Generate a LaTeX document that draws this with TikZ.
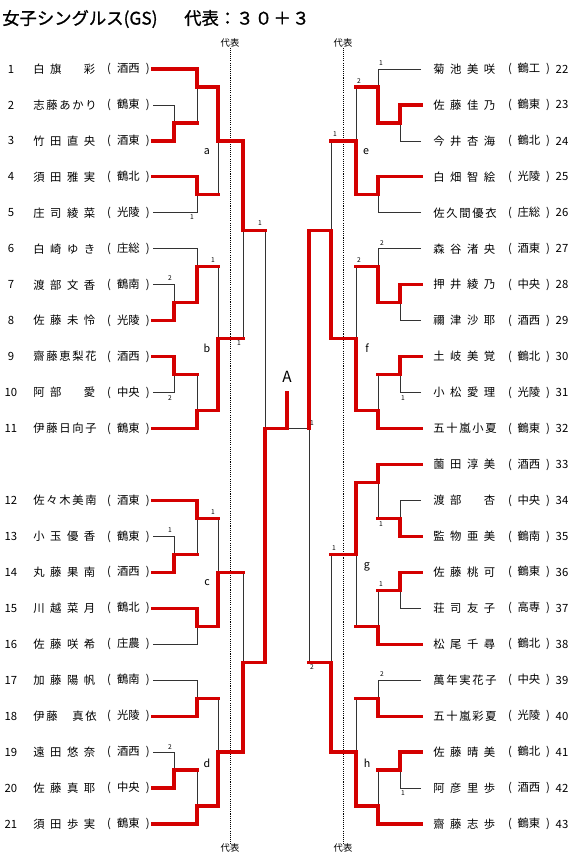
\documentclass[tikz,border=0pt]{standalone}
\usepackage{fontspec}
\setmainfont{Noto Sans CJK JP}
\newfontfamily\ttlfont[AutoFakeBold=1]{Noto Sans CJK JP}
\usetikzlibrary{positioning,calc}
\definecolor{winred}{RGB}{212,0,0}
\newcommand\kk{\phantom{口}}
\newcommand\lostto[2]{\draw[lose] (#1 -| #2) -- (#2); \draw[win] (#1) -- (#1 -| #2);}

\begin{document}
\begin{tikzpicture}[x=0.75pt,y=-0.75pt,
    declare function={ry(\t)=69+35.95*\t;},
    win/.style={draw=winred, line width=2.4pt, line cap=rect},
    lose/.style={draw=black!80, line width=0.6pt},
    repline/.style={line width=0.6pt, dash pattern=on 0.8pt off 0.8pt},
    pltext/.style={inner sep=0pt, font=\fontsize{8.5}{10}\selectfont},
    blk/.style={inner sep=0pt, font=\fontsize{8}{9}\selectfont},
    pts/.style={inner sep=0pt, font=\fontsize{5}{6}\selectfont},
    reptext/.style={inner sep=0pt, font=\fontsize{7}{8}\selectfont}]
\useasboundingbox (0,0) rectangle (576,861);

\node[inner sep=0pt, anchor=west, font=\ttlfont\bfseries\fontsize{13}{15}\selectfont] (title) at (2,19)
    {女子シングルス(GS)\hspace{20pt}代表：３\hspace{1pt}０\hspace{1pt}＋\hspace{1pt}３};

% players, left
\foreach \n/\nm/\sch in {1/{白 旗 \kk{} 彩}/酒西, 2/{志 藤 あ か り}/鶴東, 3/{竹 田 直 央}/酒東,
    4/{須 田 雅 実}/鶴北, 5/{庄 司 綾 菜}/光陵, 6/{白 崎 ゆ き}/庄総, 7/{渡 部 文 香}/鶴南,
    8/{佐 藤 未 怜}/光陵, 9/{齋 藤 恵 梨 花}/酒西, 10/{阿 部 \kk{} 愛}/中央, 11/{伊 藤 日 向 子}/鶴東,
    12/{佐 々 木 美 南}/酒東, 13/{小 玉 優 香}/鶴東, 14/{丸 藤 果 南}/酒西, 15/{川 越 菜 月}/鶴北,
    16/{佐 藤 咲 希}/庄農, 17/{加 藤 陽 帆}/鶴南, 18/{伊 藤 \kk{} 真 依}/光陵, 19/{遠 田 悠 奈}/酒西,
    20/{佐 藤 真 耶}/中央, 21/{須 田 歩 実}/鶴東}{
  \pgfmathsetmacro\yy{69+35.95*(\n<12 ? \n-1 : \n)}
  \node[pltext] (no\n) at (11,\yy) {\n};
  \node[pltext, anchor=west] (nm\n) at (33,\yy) {\makebox[46.5pt][s]{\nm}};
  \node[pltext] (sc\n) at (128.5,\yy) {\makebox[32pt][s]{( \sch{} )}};
  \coordinate (p\n) at (153,\yy);
}

% players, right
\foreach \n/\nm/\sch in {22/{菊 池 美 咲}/鶴工, 23/{佐 藤 佳 乃}/鶴東, 24/{今 井 杏 海}/鶴北,
    25/{白 畑 智 絵}/光陵, 26/{佐 久 間 優 衣}/庄総, 27/{森 谷 渚 央}/酒東, 28/{押 井 綾 乃}/中央,
    29/{禰 津 沙 耶}/酒西, 30/{土 岐 美 覚}/鶴北, 31/{小 松 愛 理}/光陵, 32/{五 十 嵐 小 夏}/鶴東,
    33/{薗 田 淳 美}/酒西, 34/{渡 部 \kk{} 杏}/中央, 35/{監 物 亜 美}/鶴南, 36/{佐 藤 桃 可}/鶴東,
    37/{荘 司 友 子}/高専, 38/{松 尾 千 尋}/鶴北, 39/{萬 年 実 花 子}/中央, 40/{五 十 嵐 彩 夏}/光陵,
    41/{佐 藤 晴 美}/鶴北, 42/{阿 彦 里 歩}/酒西, 43/{齋 藤 志 歩}/鶴東}{
  \pgfmathsetmacro\yy{69+35.95*(\n-22)}
  \node[pltext, anchor=west] (nm\n) at (433,\yy) {\makebox[46.5pt][s]{\nm}};
  \node[pltext] (sc\n) at (529,\yy) {\makebox[31.5pt][s]{( \sch{} )}};
  \node[pltext] (no\n) at (562,\yy) {\n};
  \coordinate (p\n) at (421,\yy);
}

% match points
\coordinate (m23) at (174,{ry(1.5)});   \coordinate (m13) at (197,{ry(0.5)});
\coordinate (m45) at (197,{ry(3.5)});   \coordinate (ma) at (218,{ry(2)});
\coordinate (m78) at (174,{ry(6.5)});   \coordinate (m68) at (197,{ry(5.5)});
\coordinate (m910) at (174,{ry(8.5)});  \coordinate (m911) at (197,{ry(9.5)});
\coordinate (mb) at (218,{ry(7.5)});    \coordinate (mab) at (243,{ry(4.5)});
\coordinate (m1314) at (174,{ry(13.5)}); \coordinate (m1214) at (197,{ry(12.5)});
\coordinate (m1516) at (197,{ry(15.5)}); \coordinate (mc) at (218,{ry(14)});
\coordinate (m1718) at (197,{ry(17.5)}); \coordinate (m1920) at (174,{ry(19.5)});
\coordinate (m1921) at (197,{ry(20.5)}); \coordinate (md) at (218,{ry(19)});
\coordinate (mcd) at (243,{ry(16.5)});  \coordinate (mleft) at (265,{ry(10)});
\coordinate (m2324) at (400,{ry(1.5)}); \coordinate (m2224) at (378,{ry(0.5)});
\coordinate (m2526) at (378,{ry(3.5)}); \coordinate (me) at (356,{ry(2)});
\coordinate (m2829) at (400,{ry(6.5)}); \coordinate (m2729) at (378,{ry(5.5)});
\coordinate (m3031) at (400,{ry(8.5)}); \coordinate (m3032) at (378,{ry(9.5)});
\coordinate (mf) at (356,{ry(7.5)});    \coordinate (mef) at (331,{ry(4.5)});
\coordinate (m3435) at (400,{ry(12.5)}); \coordinate (m3335) at (378,{ry(11.5)});
\coordinate (m3637) at (400,{ry(14.5)}); \coordinate (m3638) at (378,{ry(15.5)});
\coordinate (mg) at (356,{ry(13.5)});   \coordinate (m3940) at (378,{ry(17.5)});
\coordinate (m4142) at (400,{ry(19.5)}); \coordinate (m4143) at (378,{ry(20.5)});
\coordinate (mh) at (356,{ry(19)});     \coordinate (mgh) at (331,{ry(16.5)});
\coordinate (mright) at (309,{ry(10)}); \coordinate (mfin) at (287,{ry(10)});
\coordinate (champ) at (287,{ry(9)});

% representative lines
\node[reptext] (rtl) at (230,43) {代表};
\node[reptext] (rbl) at (230,848) {代表};
\node[reptext] (rtr) at (343,43) {代表};
\node[reptext] (rbr) at (343,848) {代表};
\draw[repline] (rtl.south) -- (rbl.north);
\draw[repline] (rtr.south) -- (rbr.north);

% losers
\foreach \a/\b in {p2/m23, p5/m45, p7/m78, p6/m68, p10/m910, p13/m1314, p16/m1516, p17/m1718,
    p19/m1920, p24/m2324, p22/m2224, p26/m2526, p29/m2829, p27/m2729, p31/m3031, p34/m3435,
    p37/m3637, p39/m3940, p42/m4142}
  \draw[lose] (\a) -| (\b);
\draw[lose] (mright) -- (mfin);
\lostto{m23}{m13}
\lostto{m45}{ma}
\lostto{m68}{mb}
\lostto{m910}{m911}
\lostto{mb}{mab}
\lostto{m1314}{m1214}
\lostto{m1214}{mc}
\lostto{m1920}{m1921}
\lostto{m1718}{md}
\lostto{mc}{mcd}
\lostto{mab}{mleft}
\lostto{m2224}{me}
\lostto{m3031}{m3032}
\lostto{m2729}{mf}
\lostto{me}{mef}
\lostto{m3435}{m3335}
\lostto{m3637}{m3638}
\lostto{m3638}{mg}
\lostto{m4142}{m4143}
\lostto{m3940}{mh}
\lostto{mg}{mgh}
\lostto{mgh}{mright}

% winners
\foreach \a/\b in {p3/m23, p1/m13, p4/m45, m13/ma, ma/mab, p8/m78, m78/m68, p9/m910, p11/m911,
    m911/mb, p14/m1314, p12/m1214, p15/m1516, m1516/mc, p18/m1718, p20/m1920, p21/m1921,
    m1921/md, md/mcd, mcd/mleft, p23/m2324, m2324/m2224, p25/m2526, m2526/me, p28/m2829,
    m2829/m2729, p30/m3031, p32/m3032, m3032/mf, mf/mef, mef/mright, p35/m3435, p33/m3335,
    m3335/mg, p36/m3637, p38/m3638, p40/m3940, p41/m4142, p43/m4143, m4143/mh, mh/mgh}
  \draw[win] (\a) -| (\b);
\draw[win] (mleft) -- (mfin) -- (champ);
\node[inner sep=0pt, font=\fontsize{11.5}{13}\selectfont] (final) at (287,377) {A};

% blocks
\foreach \t/\x/\y in {a/207/152, b/207/348, c/207/583, d/207/763, e/366/152, f/367/348, g/367/567, h/367/763}
  \node[blk] (blk\t) at (\x,\y) {\t};

% points
\foreach \x/\y/\t [count=\i] in {192/217/1, 170/278/2, 213/260/1, 170/398/2, 239/343/1, 260/223/1,
    213/512/1, 170/530/1, 170/747/2, 381/63/1, 359/81/2, 335/134/1, 382/243/2, 359/260/2,
    403/398/1, 312/423/1, 381/524/1, 381/584/1, 334/548/1, 312/667/2, 382/674/2, 403/793/1}
  \node[pts] (pt\i) at (\x,\y) {\t};
\end{tikzpicture}
\end{document}
